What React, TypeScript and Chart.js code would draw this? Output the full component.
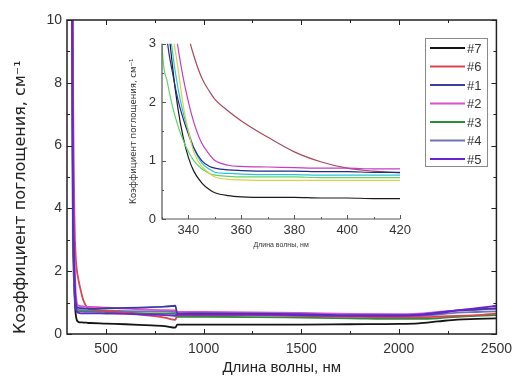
import React, { useEffect, useRef } from 'react';
import { Chart, registerables } from 'chart.js';

Chart.register(...registerables);

// ---------- data ----------
const wavelengths = [325, 330, 332, 334, 336, 338, 340, 342, 345, 348, 350, 355, 360, 370, 380, 390, 400, 410, 420, 500, 600, 700, 800, 855, 865, 1000, 1250, 1500, 1750, 2000, 2100, 2200, 2300, 2400, 2500];

const seriesLabels = ['#7', '#6', '#1', '#2', '#3', '#4', '#5'];

const s7 = [14, 5.5, 3.6, 2.6, 1.9, 1.4, 1.05, 0.82, 0.62, 0.5, 0.45, 0.4, 0.38, 0.37, 0.37, 0.36, 0.36, 0.35, 0.35, 0.33, 0.31, 0.28, 0.25, 0.2, 0.3, 0.3, 0.3, 0.3, 0.31, 0.32, 0.34, 0.4, 0.46, 0.48, 0.5];
const s6 = [16, 9, 7, 5.6, 4.7, 3.8, 3.15, 2.8, 2.42, 2.18, 2.05, 1.85, 1.68, 1.4, 1.15, 0.98, 0.87, 0.82, 0.79, 0.74, 0.67, 0.6, 0.52, 0.45, 0.6, 0.6, 0.6, 0.58, 0.55, 0.53, 0.53, 0.55, 0.58, 0.6, 0.65];
const s1 = [14, 4.2, 3.05, 2.5, 2.05, 1.72, 1.45, 1.22, 1.0, 0.9, 0.87, 0.84, 0.83, 0.82, 0.82, 0.81, 0.81, 0.8, 0.8, 0.82, 0.83, 0.85, 0.87, 0.9, 0.65, 0.66, 0.65, 0.63, 0.6, 0.6, 0.62, 0.68, 0.75, 0.78, 0.82];
const s2 = [14, 6, 4.6, 3.6, 2.95, 2.42, 2.0, 1.66, 1.3, 1.1, 1.0, 0.92, 0.9, 0.89, 0.88, 0.87, 0.87, 0.86, 0.86, 0.84, 0.81, 0.78, 0.76, 0.75, 0.7, 0.7, 0.69, 0.67, 0.64, 0.63, 0.65, 0.7, 0.75, 0.78, 0.8];
const s3 = [12, 3.0, 2.35, 1.92, 1.6, 1.35, 1.15, 1.0, 0.86, 0.78, 0.75, 0.73, 0.72, 0.72, 0.72, 0.71, 0.71, 0.71, 0.71, 0.7, 0.68, 0.66, 0.65, 0.64, 0.55, 0.55, 0.54, 0.52, 0.5, 0.48, 0.48, 0.5, 0.55, 0.58, 0.6];
const s4 = [14, 4.8, 3.7, 2.85, 2.25, 1.82, 1.5, 1.22, 0.96, 0.85, 0.8, 0.78, 0.77, 0.76, 0.76, 0.75, 0.75, 0.75, 0.75, 0.74, 0.73, 0.72, 0.71, 0.7, 0.6, 0.6, 0.6, 0.58, 0.56, 0.55, 0.56, 0.62, 0.68, 0.7, 0.72];
const s5 = [14, 5.2, 4.1, 3.2, 2.6, 1.95, 1.5, 1.15, 0.9, 0.78, 0.72, 0.68, 0.67, 0.66, 0.66, 0.66, 0.66, 0.66, 0.66, 0.65, 0.64, 0.62, 0.6, 0.58, 0.62, 0.62, 0.62, 0.6, 0.58, 0.58, 0.6, 0.66, 0.75, 0.82, 0.9];

const seriesValues = [s7, s6, s1, s2, s3, s4, s5];
const drawOrder = [6, 3, 1, 2, 5, 4, 0];

const mainColors = ['#151515', '#d8454f', '#3a3f9e', '#d94fd6', '#2f8a3c', '#6a76b0', '#6a22d6'];
const insetColors = ['#1a1a1a', '#a84a5c', '#1f2c8c', '#c53cc6', '#5fd36a', '#2ec3d3', '#d6d24a'];

const mainXTicks = [500, 1000, 1500, 2000, 2500];
const mainYTicks = [0, 2, 4, 6, 8, 10];
const insetXTicks = [340, 360, 380, 400, 420];
const insetYTicks = [0, 1, 2, 3];

const FONT = "'Liberation Sans', Arial, sans-serif";
const plain = (v: any) => String(v);

function buildDatasets(colors: string[], width: number) {
  return seriesValues.map((vals, i) => ({
    label: seriesLabels[i],
    data: wavelengths.map((x, j) => ({ x, y: vals[j] })),
    borderColor: colors[i],
    backgroundColor: colors[i],
    borderWidth: width,
    pointRadius: 0,
    cubicInterpolationMode: 'monotone' as const,
    order: drawOrder[i],
  }));
}

function frameTicksPlugin(opt: { box: boolean; xMinor: number; yMinor: number; major: number; minor: number; color: string; width: number }) {
  return {
    id: 'frameTicks',
    afterDatasetsDraw(chart: any) {
      const { ctx, chartArea: a, scales } = chart;
      const x = scales.x;
      const y = scales.y;
      ctx.save();
      ctx.strokeStyle = opt.color;
      ctx.lineWidth = opt.width;
      ctx.beginPath();
      if (opt.box) {
        ctx.rect(a.left, a.top, a.right - a.left, a.bottom - a.top);
      } else {
        ctx.moveTo(a.left, a.top);
        ctx.lineTo(a.left, a.bottom);
        ctx.lineTo(a.right, a.bottom);
      }
      ctx.stroke();
      ctx.lineWidth = 1;
      ctx.beginPath();
      const drawX = (v: number, len: number) => {
        const px = Math.round(x.getPixelForValue(v)) + 0.5;
        ctx.moveTo(px, a.bottom);
        ctx.lineTo(px, a.bottom - len);
        if (opt.box) {
          ctx.moveTo(px, a.top);
          ctx.lineTo(px, a.top + len);
        }
      };
      const drawY = (v: number, len: number) => {
        const py = Math.round(y.getPixelForValue(v)) + 0.5;
        ctx.moveTo(a.left, py);
        ctx.lineTo(a.left + len, py);
        if (opt.box) {
          ctx.moveTo(a.right, py);
          ctx.lineTo(a.right - len, py);
        }
      };
      x.ticks.forEach((t: any) => drawX(t.value, opt.major));
      y.ticks.forEach((t: any) => drawY(t.value, opt.major));
      const xs = x.ticks.map((t: any) => t.value);
      const ys = y.ticks.map((t: any) => t.value);
      for (let v = xs[0] - opt.xMinor; v <= x.max + 1e-9; v += 2 * opt.xMinor) {
        if (v >= x.min - 1e-9) drawX(v, opt.minor);
      }
      for (let v = ys[0] + opt.yMinor; v <= y.max + 1e-9; v += 2 * opt.yMinor) {
        if (v >= y.min - 1e-9) drawY(v, opt.minor);
      }
      ctx.stroke();
      ctx.restore();
    },
  };
}

const legendPlugin = {
  id: 'boxLegend',
  afterDraw(chart: any) {
    const { ctx } = chart;
    const bx = 425, by = 38, bw = 62, bh = 128;
    ctx.save();
    ctx.fillStyle = '#ffffff';
    ctx.fillRect(bx, by, bw, bh);
    ctx.strokeStyle = '#8a8a8a';
    ctx.lineWidth = 1;
    ctx.strokeRect(bx + 0.5, by + 0.5, bw, bh);
    ctx.font = `13px ${FONT}`;
    ctx.textBaseline = 'middle';
    ctx.textAlign = 'left';
    seriesLabels.forEach((lab, i) => {
      const yy = by + 10 + i * 18.5;
      ctx.strokeStyle = mainColors[i];
      ctx.lineWidth = 2;
      ctx.beginPath();
      ctx.moveTo(bx + 5, yy);
      ctx.lineTo(bx + 40, yy);
      ctx.stroke();
      ctx.fillStyle = '#333';
      ctx.fillText(lab, bx + 42, yy + 1);
    });
    ctx.restore();
  },
};

export default function App() {
  const mainRef = useRef<HTMLCanvasElement>(null);
  const insetRef = useRef<HTMLCanvasElement>(null);

  useEffect(() => {
    document.body.style.margin = '0';
    const main = new Chart(mainRef.current!, {
      type: 'line',
      data: { datasets: buildDatasets(mainColors, 1.8) as any },
      options: {
        animation: false,
        responsive: false,
        events: [],
        layout: { padding: { top: 20, right: 17, left: 0, bottom: 0 } },
        plugins: { legend: { display: false }, tooltip: { enabled: false } },
        scales: {
          x: {
            type: 'linear',
            min: 300,
            max: 2500,
            afterBuildTicks: (s: any) => { s.ticks = mainXTicks.map((v) => ({ value: v })); },
            afterFit: (s: any) => { s.height = 46; },
            grid: { display: false, drawTicks: false },
            border: { display: false },
            ticks: { padding: 7, font: { size: 14, family: FONT }, color: '#333', maxRotation: 0, autoSkip: false, callback: plain },
            title: { display: true, text: 'Длина волны, нм', font: { size: 15, family: FONT }, color: '#222', padding: { top: 0, bottom: 3 } },
          },
          y: {
            type: 'linear',
            min: 0,
            max: 10,
            afterBuildTicks: (s: any) => { s.ticks = mainYTicks.map((v) => ({ value: v })); },
            afterFit: (s: any) => { s.width = 67; },
            grid: { display: false, drawTicks: false },
            border: { display: false },
            ticks: { padding: 5, font: { size: 14, family: FONT }, color: '#333', callback: plain },
            title: { display: true, align: 'start', text: 'Коэффициент поглощения, см⁻¹', font: { size: 16, family: "'DejaVu Sans', sans-serif" }, color: '#222', padding: { top: 11, bottom: 0 } },
          },
        },
      },
      plugins: [frameTicksPlugin({ box: true, xMinor: 250, yMinor: 1, major: 5, minor: 3, color: '#222', width: 1.5 }), legendPlugin],
    });

    const inset = new Chart(insetRef.current!, {
      type: 'line',
      data: { datasets: buildDatasets(insetColors, 1.2) as any },
      options: {
        animation: false,
        responsive: false,
        events: [],
        layout: { padding: { top: 13, right: 12, left: 0, bottom: 0 } },
        plugins: { legend: { display: false }, tooltip: { enabled: false } },
        scales: {
          x: {
            type: 'linear',
            min: 330,
            max: 420,
            afterBuildTicks: (s: any) => { s.ticks = insetXTicks.map((v) => ({ value: v })); },
            afterFit: (s: any) => { s.height = 43; },
            grid: { display: false, drawTicks: false },
            border: { display: false },
            ticks: { padding: 4, font: { size: 13, family: FONT }, color: '#333', maxRotation: 0, autoSkip: false, callback: plain },
            title: { display: true, text: 'Длина волны, нм', font: { size: 7, family: FONT }, color: '#333', padding: { top: 0, bottom: 13 } },
          },
          y: {
            type: 'linear',
            min: 0,
            max: 3,
            afterBuildTicks: (s: any) => { s.ticks = insetYTicks.map((v) => ({ value: v })); },
            afterFit: (s: any) => { s.width = 47; },
            grid: { display: false, drawTicks: false },
            border: { display: false },
            ticks: { padding: 6, font: { size: 13, family: FONT }, color: '#333', callback: plain },
            title: { display: true, text: 'Коэффициент поглощения, см⁻¹', font: { size: 8.5, family: "'DejaVu Sans', sans-serif" }, color: '#333', padding: { top: 14, bottom: 0 } },
          },
        },
      },
      plugins: [frameTicksPlugin({ box: false, xMinor: 10, yMinor: 0.5, major: 4, minor: 2, color: '#555', width: 1.2 })],
    });

    return () => {
      main.destroy();
      inset.destroy();
    };
  }, []);

  return (
    <div style={{ position: 'relative', width: 519, height: 380, background: '#fff' }}>
      <canvas ref={mainRef} width={519} height={380} style={{ position: 'absolute', left: 0, top: 0 }} />
      <canvas ref={insetRef} width={300} height={232} style={{ position: 'absolute', left: 115, top: 30 }} />
    </div>
  );
}
